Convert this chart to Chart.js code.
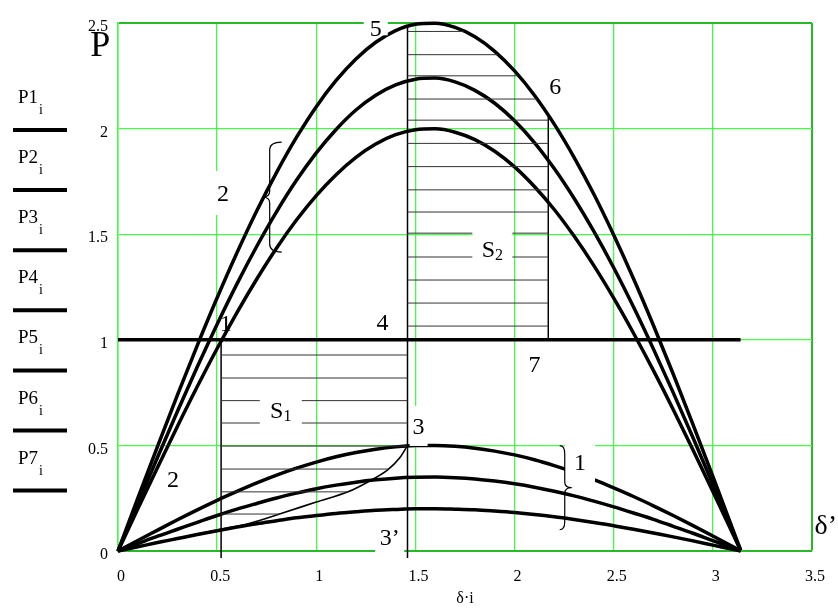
<!DOCTYPE html>
<html>
<head>
<meta charset="utf-8">
<title>P(δ)</title>
<script src="https://cdn.jsdelivr.net/npm/chart.js@4.4.1/dist/chart.umd.min.js"></script>
<style>
  html, body { margin: 0; padding: 0; background: #ffffff; overflow: hidden; }
</style>
</head>
<body>
<canvas id="grafico" width="838" height="608"></canvas>
<script>
// angolo δ (rad)
const delta = [0, 0.1, 0.2, 0.3, 0.4, 0.5, 0.6, 0.7, 0.8, 0.9, 1.0, 1.1, 1.2, 1.3, 1.4, 1.5,
               1.6, 1.7, 1.8, 1.9, 2.0, 2.1, 2.2, 2.3, 2.4, 2.5, 2.6, 2.7, 2.8, 2.9, 3.0, 3.1, 3.14];

// caratteristiche di potenza P(δ)
const P1 = [0, 0.250, 0.497, 0.739, 0.974, 1.199, 1.412, 1.611, 1.793, 1.958, 2.104, 2.228, 2.330, 2.409, 2.464, 2.494,
            2.499, 2.479, 2.435, 2.366, 2.273, 2.158, 2.021, 1.864, 1.689, 1.496, 1.289, 1.069, 0.838, 0.598, 0.353, 0.104, 0.004];
const P2 = [0, 0.224, 0.445, 0.662, 0.872, 1.074, 1.265, 1.443, 1.607, 1.755, 1.885, 1.996, 2.088, 2.158, 2.207, 2.234,
            2.239, 2.221, 2.181, 2.120, 2.037, 1.934, 1.811, 1.670, 1.513, 1.341, 1.155, 0.957, 0.750, 0.536, 0.316, 0.093, 0.004];
const P3 = [0, 0.200, 0.397, 0.591, 0.779, 0.959, 1.129, 1.288, 1.435, 1.567, 1.683, 1.782, 1.864, 1.927, 1.971, 1.995,
            1.999, 1.983, 1.948, 1.893, 1.819, 1.726, 1.617, 1.491, 1.351, 1.197, 1.031, 0.855, 0.670, 0.478, 0.282, 0.083, 0.003];
const P5 = [0, 0.050, 0.099, 0.148, 0.195, 0.240, 0.282, 0.322, 0.359, 0.392, 0.421, 0.446, 0.466, 0.482, 0.493, 0.499,
            0.500, 0.496, 0.487, 0.473, 0.455, 0.432, 0.404, 0.373, 0.338, 0.299, 0.258, 0.214, 0.168, 0.120, 0.071, 0.021, 0.001];
const P6 = [0, 0.035, 0.070, 0.103, 0.136, 0.168, 0.198, 0.225, 0.251, 0.274, 0.295, 0.312, 0.326, 0.337, 0.345, 0.349,
            0.350, 0.347, 0.341, 0.331, 0.318, 0.302, 0.283, 0.261, 0.236, 0.209, 0.180, 0.150, 0.117, 0.084, 0.049, 0.015, 0.001];
const P7 = [0, 0.020, 0.040, 0.059, 0.078, 0.096, 0.113, 0.129, 0.143, 0.157, 0.168, 0.178, 0.186, 0.193, 0.197, 0.200,
            0.200, 0.198, 0.195, 0.189, 0.182, 0.173, 0.162, 0.149, 0.135, 0.120, 0.103, 0.085, 0.067, 0.048, 0.028, 0.008, 0];

// potenza della turbina P = 1
const deltaP4 = [0, 3.14];
const P4 = [1, 1];

// passaggio dal punto 0 al punto 3
const deltaTr = [0, 0.1, 0.2, 0.3, 0.4, 0.53, 0.67, 0.83, 1.0, 1.16, 1.26, 1.36, 1.42, 1.46];
const PTr = [0, 0.02, 0.04, 0.06, 0.08, 0.105, 0.133, 0.18, 0.232, 0.28, 0.327, 0.384, 0.44, 0.5];

// confini delle aree S1 e S2 (δ)
const confini = [0.52, 1.46, 2.17];
// livelli del tratteggio
const livelliS1 = [0.928, 0.819, 0.712, 0.606, 0.497, 0.388, 0.28, 0.175];
const livelliS2 = [1.065, 1.174, 1.283, 1.392, 1.505, 1.605, 1.71, 1.82, 1.93, 2.04, 2.14, 2.25, 2.35, 2.46];

const nomiLegenda = ['P1', 'P2', 'P3', 'P4', 'P5', 'P6', 'P7'];
const tickX = [0, 0.5, 1, 1.5, 2, 2.5, 3, 3.5];
const tickY = [0, 0.5, 1, 1.5, 2, 2.5];

const serif = "'Liberation Serif', 'Times New Roman', serif";
const verde = 'rgb(70, 250, 70)';
const verdeScuro = 'rgb(40, 185, 40)';

function punti(xs, ys) {
    return xs.map((x, k) => ({ x: x, y: ys[k] }));
}

function incrocioSalita(xs, ys, liv) {
    for (let k = 0; k < xs.length - 1; k++) {
        if (ys[k] <= liv && ys[k + 1] >= liv && ys[k + 1] > ys[k]) {
            return xs[k] + (liv - ys[k]) / (ys[k + 1] - ys[k]) * (xs[k + 1] - xs[k]);
        }
    }
    return Infinity;
}

function incrocioDiscesa(xs, ys, liv) {
    for (let k = xs.length - 1; k > 0; k--) {
        if (ys[k] <= liv && ys[k - 1] >= liv && ys[k - 1] > ys[k]) {
            return xs[k] - (liv - ys[k]) / (ys[k - 1] - ys[k]) * (xs[k] - xs[k - 1]);
        }
    }
    return Infinity;
}

function valoreIn(xs, ys, x) {
    for (let k = 0; k < xs.length - 1; k++) {
        if (x >= xs[k] && x <= xs[k + 1]) {
            return ys[k] + (x - xs[k]) / (xs[k + 1] - xs[k]) * (ys[k + 1] - ys[k]);
        }
    }
    return 0;
}

function curva(xs, ys, spessore) {
    return {
        data: punti(xs, ys),
        borderColor: '#000',
        borderWidth: spessore,
        pointRadius: 0,
        cubicInterpolationMode: 'monotone',
        fill: false,
        clip: false
    };
}

function segmento(x1, y1, x2, y2, colore, spessore) {
    return {
        data: [{ x: x1, y: y1 }, { x: x2, y: y2 }],
        borderColor: colore,
        borderWidth: spessore,
        pointRadius: 0,
        fill: false,
        clip: false
    };
}

const [dS1, dCl, dS2] = confini;
const sotto = -0.033; // le linee verticali scendono un poco sotto l'asse

const datasets = [];
// tratteggio S1
livelliS1.forEach(l => {
    datasets.push(segmento(dS1, l, Math.min(dCl, incrocioSalita(deltaTr, PTr, l)), l, '#333', 1));
});
// tratteggio S2
livelliS2.forEach(l => {
    datasets.push(segmento(dCl, l, Math.min(dS2, incrocioDiscesa(delta, P1, l)), l, '#333', 1));
});
datasets.push(segmento(dS1, 1, dS1, sotto, '#000', 1.5));
datasets.push(segmento(dCl, valoreIn(delta, P1, dCl), dCl, sotto, '#000', 1.5));
datasets.push(segmento(dS2, 1, dS2, valoreIn(delta, P1, dS2), '#000', 1.5));

datasets.push(curva(deltaTr, PTr, 1.6));
[P1, P2, P3, P5, P6, P7].forEach(p => datasets.push(curva(delta, p, 3.5)));
datasets.push(curva(deltaP4, P4, 3.5));

// scritte sul grafico: posizione in (δ, P), riquadro bianco opzionale [largh, alt]
const scritte = [
    { t: '5', x: 1.30, y: 2.475, s: 24, box: [24, 14] },
    { t: '6', x: 2.205, y: 2.20, s: 24 },
    { t: '2', x: 0.529, y: 1.695, s: 24, box: [26, 44] },
    { t: 'S', sub: '2', x: 1.888, y: 1.43, s: 24, box: [40, 40] },
    { t: '1', x: 0.544, y: 1.08, s: 24 },
    { t: '4', x: 1.334, y: 1.084, s: 24 },
    { t: '7', x: 2.10, y: 0.885, s: 24 },
    { t: 'S', sub: '1', x: 0.821, y: 0.668, s: 24, box: [42, 44] },
    { t: '3', x: 1.516, y: 0.592, s: 24, box: [18, 40] },
    { t: '2', x: 0.277, y: 0.341, s: 24 },
    { t: '1', x: 2.33, y: 0.421, s: 24, box: [30, 44] },
    { t: '3’', x: 1.37, y: 0.066, s: 24, box: [29, 34] },
    { t: 'δ’', x: 3.57, y: 0.123, s: 28 },
    { t: 'P', x: -0.09, y: 2.40, s: 36 }
];

// graffe: centro in (δ, P), verso della punta, semi-altezza in px
const graffe = [
    { x: 0.765, y: 1.676, verso: -1, h: 55, uncino: 12 },
    { x: 2.253, y: 0.30, verso: 1, h: 42, uncino: 5 }
];

function scrivi(ctx, cx, cy, testo, sub, size) {
    ctx.font = size + 'px ' + serif;
    const w1 = ctx.measureText(testo).width;
    const ss = Math.round(size * 0.65);
    let w2 = 0;
    if (sub) {
        ctx.font = ss + 'px ' + serif;
        w2 = ctx.measureText(sub).width;
    }
    const x0 = cx - (w1 + w2) / 2;
    const base = cy + size * 0.33;
    ctx.fillStyle = '#000';
    ctx.textAlign = 'left';
    ctx.textBaseline = 'alphabetic';
    ctx.font = size + 'px ' + serif;
    ctx.fillText(testo, x0, base);
    if (sub) {
        ctx.font = ss + 'px ' + serif;
        ctx.fillText(sub, x0 + w1, base + size * 0.12);
    }
}

const annotazioni = {
    id: 'annotazioni',
    afterDatasetsDraw(chart) {
        const ctx = chart.ctx;
        const sx = chart.scales.x, sy = chart.scales.y;
        ctx.save();
        scritte.forEach(e => {
            const cx = sx.getPixelForValue(e.x), cy = sy.getPixelForValue(e.y);
            if (e.box) {
                ctx.fillStyle = '#fff';
                ctx.fillRect(cx - e.box[0] / 2, cy - e.box[1] / 2, e.box[0], e.box[1]);
            }
        });
        scritte.forEach(e => {
            scrivi(ctx, sx.getPixelForValue(e.x), sy.getPixelForValue(e.y), e.t, e.sub, e.s);
        });
        ctx.strokeStyle = '#000';
        ctx.lineWidth = 1.2;
        graffe.forEach(g => {
            const x = sx.getPixelForValue(g.x), y = sy.getPixelForValue(g.y);
            const v = g.verso, h = g.h, u = g.uncino;
            ctx.beginPath();
            ctx.moveTo(x - v * u, y - h);
            ctx.quadraticCurveTo(x, y - h, x, y - h + 8);
            ctx.lineTo(x, y - 6);
            ctx.quadraticCurveTo(x, y, x + v * 7, y);
            ctx.quadraticCurveTo(x, y, x, y + 6);
            ctx.lineTo(x, y + h - 8);
            ctx.quadraticCurveTo(x, y + h, x - v * u, y + h);
            ctx.stroke();
        });
        ctx.restore();
    },
    afterDraw(chart) {
        // legenda a sinistra: nome sopra, tratto sotto
        const ctx = chart.ctx;
        ctx.save();
        nomiLegenda.forEach((nome, k) => {
            const yl = 130 + 60.1 * k;
            ctx.fillStyle = '#000';
            ctx.textAlign = 'left';
            ctx.textBaseline = 'alphabetic';
            ctx.font = '19px ' + serif;
            ctx.fillText(nome, 18, yl - 27);
            const w = ctx.measureText(nome).width;
            ctx.font = '14px ' + serif;
            ctx.fillText('i', 18 + w + 1, yl - 16);
            ctx.strokeStyle = '#000';
            ctx.lineWidth = 4;
            ctx.beginPath();
            ctx.moveTo(13, yl);
            ctx.lineTo(67, yl);
            ctx.stroke();
        });
        ctx.restore();
    }
};

const formato = v => String(+Number(v).toFixed(2));

new Chart(document.getElementById('grafico'), {
    type: 'line',
    data: { datasets: datasets },
    options: {
        responsive: false,
        devicePixelRatio: 1,
        animation: false,
        events: [],
        layout: { padding: { top: 23, right: 25, left: 0, bottom: 0 } },
        plugins: { legend: { display: false }, tooltip: { enabled: false } },
        scales: {
            x: {
                type: 'linear',
                min: 0,
                max: 3.5,
                afterBuildTicks: s => { s.ticks = tickX.map(v => ({ value: v })); },
                afterFit: s => { s.height = 57; },
                ticks: {
                    callback: formato,
                    color: '#000',
                    font: { family: serif, size: 16 },
                    padding: 16,
                    labelOffset: 3,
                    maxRotation: 0
                },
                grid: {
                    drawTicks: false,
                    color: c => (c.tick && c.tick.value === 3.5 ? verdeScuro : verde),
                    lineWidth: c => (c.tick && c.tick.value === 3.5 ? 2 : 1.3)
                },
                border: { color: verdeScuro, width: 2 },
                title: {
                    display: true,
                    text: 'δ·i',
                    color: '#000',
                    font: { family: serif, size: 16 },
                    padding: 0
                }
            },
            y: {
                type: 'linear',
                min: 0,
                max: 2.5,
                afterBuildTicks: s => { s.ticks = tickY.map(v => ({ value: v })); },
                afterFit: s => { s.width = 118; },
                ticks: {
                    callback: formato,
                    color: '#000',
                    font: { family: serif, size: 16 },
                    padding: 10,
                    labelOffset: 4
                },
                grid: {
                    drawTicks: false,
                    color: c => (c.tick && c.tick.value === 2.5 ? verdeScuro : verde),
                    lineWidth: c => (c.tick && c.tick.value === 2.5 ? 2 : 1.3)
                },
                border: { color: verde, width: 1.5 }
            }
        }
    },
    plugins: [annotazioni]
});
</script>
</body>
</html>
